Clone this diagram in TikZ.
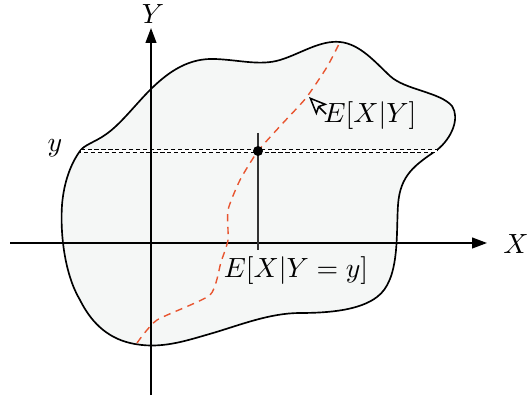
\documentclass[tikz,border=0pt]{standalone}
\usetikzlibrary{arrows.meta}
\definecolor{blobfill}{RGB}{245,247,246}
\definecolor{redline}{RGB}{232,85,48}
\begin{document}
\begin{tikzpicture}[x=0.36pt,y=-0.36pt,
  axisline/.style={semithick,-{Triangle[length=5.4pt,width=3.9pt]}},
  blobline/.style={semithick,fill=blobfill},
  redcurve/.style={redline,line width=0.5pt,dash pattern=on 2.6pt off 2pt},
  levelline/.style={line width=0.35pt,dash pattern=on 1.5pt off 1pt,fill=white},
  lbl/.style={inner sep=1pt},
  pointer/.style={line width=0.55pt,-{Stealth[open,length=6.5pt,width=5.5pt,inset=1.3pt]}}]
\useasboundingbox (0,0) rectangle (532,398);
% region
\draw[blobline] (80,151)
 .. controls (84,145) and (95,142) .. (105,135)
 .. controls (120,125) and (135,105) .. (150,90)
 .. controls (170,70) and (190,58) .. (215,59)
 .. controls (240,60) and (260,66) .. (280,60)
 .. controls (300,54) and (320,40) .. (340,42)
 .. controls (360,44) and (375,62) .. (390,76)
 .. controls (405,90) and (440,92) .. (452,106)
 .. controls (460,118) and (452,138) .. (437,150)
 .. controls (415,165) and (400,175) .. (398,205)
 .. controls (396,235) and (400,280) .. (377,297)
 .. controls (360,310) and (330,313) .. (300,313)
 .. controls (270,313) and (240,325) .. (213,333)
 .. controls (185,341) and (160,350) .. (130,343)
 .. controls (105,337) and (90,320) .. (80,300)
 .. controls (65,275) and (60,235) .. (62,205)
 .. controls (64,180) and (72,162) .. (80,151) -- cycle;
% level line Y=y
\draw[levelline] (80,149.6) rectangle (437,152.6);
% axes
\coordinate (xs) at (10,243);
\coordinate (xe) at (487,243);
\coordinate (ys) at (151,395);
\coordinate (ye) at (151,28);
\draw[axisline] (xs) -- (xe);
\draw[axisline] (ys) -- (ye);
\node[lbl] (X) at (516,244) {$X$};
\node[lbl] (Y) at (153,14) {$Y$};
\node[lbl] (ylab) at (55,148) {$y$};
% conditional expectation curve
\draw[redcurve] plot[smooth,tension=0.35] coordinates {
 (137,343) (157,320) (210,295) (221,262) (228,240) (228,210) (240,180)
 (258,151) (283,123) (306,98) (327,67) (340,42)};
% vertical marker
\coordinate (vt) at (258,133);
\coordinate (vb) at (258,250);
\draw[line width=0.4pt,black!80] (vt) -- (vb);
\node[circle,fill=black,inner sep=0pt,minimum size=3.6pt] (dot) at (258,151) {};
\node[lbl] (eyy) at (296,271) {$E[X|Y=y]$};
% E[X|Y] label with pointer
\node[lbl] (exy) at (370,116) {$E[X|Y]$};
\coordinate (ptail) at (326,114);
\coordinate (ptip) at (309,97);
\draw[pointer] (ptail) -- (ptip);
\end{tikzpicture}
\end{document}
